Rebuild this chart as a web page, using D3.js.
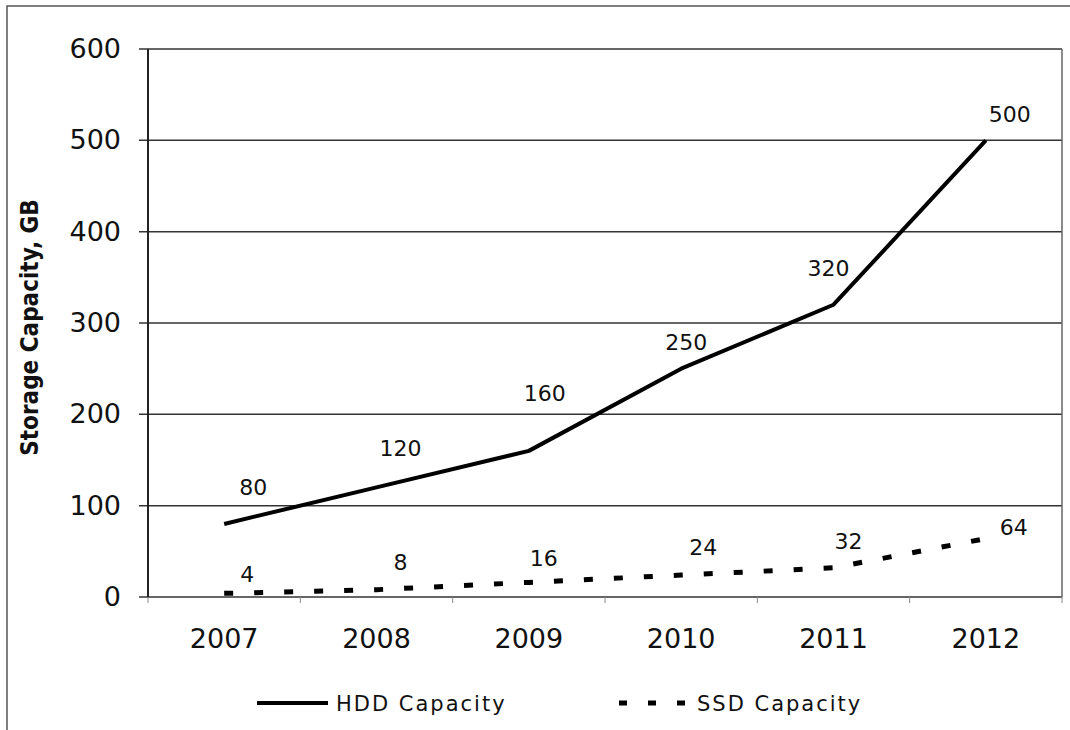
<!DOCTYPE html>
<html>
<head>
<meta charset="utf-8">
<script src="https://cdn.jsdelivr.net/npm/d3@7"></script>
<style>
  html, body { margin: 0; padding: 0; background: #fff; }
  svg { display: block; }
</style>
</head>
<body>
<svg id="chart" width="1070" height="730"></svg>
<script>
// Storage capacity by year, GB
const years = ["2007", "2008", "2009", "2010", "2011", "2012"];
const hddCapacity = [80, 120, 160, 250, 320, 500];
const ssdCapacity = [4, 8, 16, 24, 32, 64];
const yTicks = [0, 100, 200, 300, 400, 500, 600];

// Hand-placed value label nudges (dx, dy from the point)
const hddLabelNudge = [[29, -37], [24, -39], [16, -58], [5, -27], [-5, -37], [24, -26]];
const ssdLabelNudge = [[23, -19], [24, -28], [15, -24], [22, -28], [15, -27], [28, -11]];

const svg = d3.select("#chart");
const W = 1070, H = 730;
const plot = { left: 148, right: 1062, top: 49, bottom: 597 };
const font = "'DejaVu Sans', Verdana, sans-serif";
const ink = "#111";

// Outer frame (open at the bottom and right, running off the page)
svg.append("path")
  .attr("d", `M7,${H + 5} L7,6 L${W + 5},6`)
  .attr("fill", "none")
  .attr("stroke", "#555")
  .attr("stroke-width", 1.5);

const x = d3.scaleBand().domain(years).range([plot.left, plot.right]);
const cx = d => x(d) + x.bandwidth() / 2;
const y = d3.scaleLinear().domain([0, 600]).range([plot.bottom, plot.top]);

// Horizontal gridlines
svg.append("g")
  .selectAll("line")
  .data(yTicks)
  .join("line")
  .attr("x1", plot.left - 9)
  .attr("x2", plot.right)
  .attr("y1", d => y(d))
  .attr("y2", d => y(d))
  .attr("stroke", "#333")
  .attr("stroke-width", 1.5);

// Plot border: left axis and right edge
svg.append("line")
  .attr("x1", plot.left).attr("x2", plot.left)
  .attr("y1", plot.top).attr("y2", plot.bottom)
  .attr("stroke", "#222").attr("stroke-width", 2);
svg.append("line")
  .attr("x1", plot.right).attr("x2", plot.right)
  .attr("y1", plot.top).attr("y2", plot.bottom)
  .attr("stroke", "#666").attr("stroke-width", 1.5);

// Y axis labels
const yAxis = d3.axisLeft(y).tickValues(yTicks).tickSize(0).tickPadding(27);
const gy = svg.append("g").attr("transform", `translate(${plot.left},0)`).call(yAxis);
gy.select(".domain").remove();
gy.selectAll("text")
  .attr("font-family", font)
  .attr("font-size", 27)
  .attr("fill", ink);

// X axis: ticks at category boundaries, labels centered in bands
const xBounds = years.map(d => x(d)).concat([plot.right]);
svg.append("g")
  .selectAll("line")
  .data(xBounds)
  .join("line")
  .attr("x1", d => d).attr("x2", d => d)
  .attr("y1", plot.bottom).attr("y2", plot.bottom + 6)
  .attr("stroke", "#888").attr("stroke-width", 1);

const xAxis = d3.axisBottom(x).tickSize(0).tickPadding(32);
const gx = svg.append("g").attr("transform", `translate(0,${plot.bottom})`).call(xAxis);
gx.select(".domain").remove();
gx.selectAll("text")
  .attr("font-family", font)
  .attr("font-size", 27)
  .attr("fill", ink);

// Y axis title
svg.append("text")
  .attr("transform", `translate(38,${(192 + 463) / 2}) rotate(-90)`)
  .attr("text-anchor", "middle")
  .attr("font-family", "'DejaVu Sans Condensed', 'DejaVu Sans', sans-serif")
  .attr("font-weight", "bold")
  .attr("font-size", 24)
  .attr("fill", ink)
  .text("Storage Capacity, GB");

const line = d3.line().x(d => cx(d.year)).y(d => y(d.value));
const hdd = years.map((yr, i) => ({ year: yr, value: hddCapacity[i] }));
const ssd = years.map((yr, i) => ({ year: yr, value: ssdCapacity[i] }));

// HDD series (solid)
svg.append("path")
  .datum(hdd)
  .attr("d", line)
  .attr("fill", "none")
  .attr("stroke", "#000")
  .attr("stroke-width", 4)
  .attr("stroke-linejoin", "round");

// SSD series (dashed)
svg.append("path")
  .datum(ssd)
  .attr("d", line)
  .attr("fill", "none")
  .attr("stroke", "#000")
  .attr("stroke-width", 5)
  .attr("stroke-dasharray", "9,21");

// Value labels
function valueLabels(data, nudge) {
  svg.append("g")
    .selectAll("text")
    .data(data)
    .join("text")
    .attr("x", (d, i) => cx(d.year) + nudge[i][0])
    .attr("y", (d, i) => y(d.value) + nudge[i][1])
    .attr("dy", "0.36em")
    .attr("text-anchor", "middle")
    .attr("font-family", font)
    .attr("font-size", 22)
    .attr("fill", ink)
    .text(d => d.value);
}
valueLabels(hdd, hddLabelNudge);
valueLabels(ssd, ssdLabelNudge);

// Legend
const legendY = 703;
const legend = svg.append("g");
legend.append("line")
  .attr("x1", 257).attr("x2", 328)
  .attr("y1", legendY).attr("y2", legendY)
  .attr("stroke", "#000").attr("stroke-width", 4);
legend.append("text")
  .attr("x", 336).attr("y", legendY).attr("dy", "0.36em")
  .attr("font-family", font).attr("font-size", 21)
  .attr("letter-spacing", 2)
  .attr("fill", ink)
  .text("HDD Capacity");
legend.append("line")
  .attr("x1", 619).attr("x2", 690)
  .attr("y1", legendY).attr("y2", legendY)
  .attr("stroke", "#000").attr("stroke-width", 5)
  .attr("stroke-dasharray", "8,21");
legend.append("text")
  .attr("x", 697).attr("y", legendY).attr("dy", "0.36em")
  .attr("font-family", font).attr("font-size", 21)
  .attr("letter-spacing", 2)
  .attr("fill", ink)
  .text("SSD Capacity");
</script>
</body>
</html>
